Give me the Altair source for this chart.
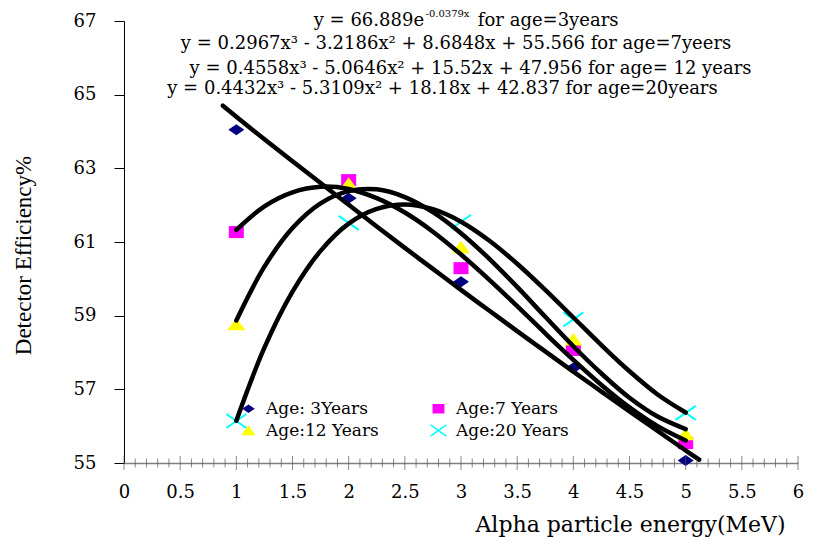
import altair as alt
import pandas as pd

# ---------------- data ----------------
SERIES = ["Age: 3Years", "Age:7 Years", "Age:12 Years", "Age:20 Years"]
COLORS = ["#000080", "#FF00FF", "#FFFF00", "#00FFFF"]

PT_X = [1, 2, 3, 4, 5]
AGE3 = [64.05, 62.19, 59.92, 57.58, 55.07]
AGE7 = [61.27, 62.68, 60.29, 58.07, 55.54]
AGE12 = [58.77, 62.58, 60.86, 58.35, 55.78]
AGE20 = [56.14, 61.52, 61.55, 58.90, 56.36]

# trend curves
CURVE_X_3 = [0.88, 1.0, 1.25, 1.5, 1.75, 2.0, 2.25, 2.5, 2.75, 3.0, 3.25, 3.5,
             3.75, 4.0, 4.25, 4.5, 4.75, 5.0, 5.12]
CURVE_Y_3 = [64.70, 64.40, 63.79, 63.19, 62.60, 62.01, 61.42, 60.84, 60.27, 59.70,
             59.14, 58.58, 58.03, 57.48, 56.94, 56.40, 55.87, 55.34, 55.09]
CURVE_X = [1.0, 1.25, 1.5, 1.75, 2.0, 2.25, 2.5, 2.75, 3.0, 3.25, 3.5, 3.75,
           4.0, 4.25, 4.5, 4.75, 5.0]
CURVE_Y_7 = [61.33, 61.97, 62.35, 62.50, 62.44, 62.19, 61.80, 61.28, 60.66, 59.98,
             59.26, 58.52, 57.80, 57.12, 56.51, 56.00, 55.61]
CURVE_Y_12 = [58.87, 60.33, 61.38, 62.05, 62.38, 62.43, 62.22, 61.81, 61.24, 60.55,
              59.78, 58.97, 58.17, 57.43, 56.77, 56.26, 55.92]
CURVE_Y_20 = [56.15, 58.13, 59.65, 60.76, 61.50, 61.90, 62.02, 61.89, 61.55, 61.04,
              60.41, 59.70, 58.95, 58.20, 57.49, 56.86, 56.37]

X_MAJOR = [0, 0.5, 1, 1.5, 2, 2.5, 3, 3.5, 4, 4.5, 5, 5.5, 6]
X_MINOR = [0.1, 0.2, 0.3, 0.4, 0.6, 0.7, 0.8, 0.9, 1.1, 1.2, 1.3, 1.4,
           1.6, 1.7, 1.8, 1.9, 2.1, 2.2, 2.3, 2.4, 2.6, 2.7, 2.8, 2.9,
           3.1, 3.2, 3.3, 3.4, 3.6, 3.7, 3.8, 3.9, 4.1, 4.2, 4.3, 4.4,
           4.6, 4.7, 4.8, 4.9, 5.1, 5.2, 5.3, 5.4, 5.6, 5.7, 5.8, 5.9]
Y_TICKS = [55, 57, 59, 61, 63, 65, 67]

EQ1_A = "y = 66.889e"
EQ1_EXP = "-0.0379x"
EQ1_C = "for age=3years"
EQ2 = "y = 0.2967x³ - 3.2186x² + 8.6848x + 55.566 for age=7yeers"
EQ3 = "y = 0.4558x³ - 5.0646x² + 15.52x + 47.956 for age= 12 years"
EQ4 = "y = 0.4432x³ - 5.3109x² + 18.18x + 42.837 for age=20years"

# ---------------- tables ----------------
pts = pd.DataFrame({
    "series": sum([[s] * len(PT_X) for s in SERIES], []),
    "x": PT_X * 4,
    "y": AGE3 + AGE7 + AGE12 + AGE20,
})
cur = pd.concat([
    pd.DataFrame({"series": SERIES[0], "x": CURVE_X_3, "y": CURVE_Y_3}),
    pd.DataFrame({"series": SERIES[1], "x": CURVE_X, "y": CURVE_Y_7}),
    pd.DataFrame({"series": SERIES[2], "x": CURVE_X, "y": CURVE_Y_12}),
    pd.DataFrame({"series": SERIES[3], "x": CURVE_X, "y": CURVE_Y_20}),
])

DIAMOND = "M-0.8,0L0,-0.55L0.8,0L0,0.55Z"
SQUARE = "M-0.75,-0.6L0.75,-0.6L0.75,0.6L-0.75,0.6Z"
TRIANGLE = "M0,-0.65L0.9,0.6L-0.9,0.6Z"
XMARK = ("M-1.057,-0.618L0.943,0.782L1.057,0.618L-0.943,-0.782Z"
         "M-0.943,0.782L1.057,-0.618L0.943,-0.782L-1.057,0.618Z")
SHAPES = [DIAMOND, SQUARE, TRIANGLE, XMARK]

SERIF = "DejaVu Serif"

xscale = alt.Scale(domain=[0, 6], nice=False, zero=False)
yscale = alt.Scale(domain=[55, 67], nice=False, zero=False)

xaxis = alt.Axis(values=X_MAJOR, format=".1~f", ticks=False, grid=False,
                 domainColor="#808080", domainWidth=1.5,
                 labelFont=SERIF, labelFontSize=18, labelColor="black",
                 labelPadding=20, labelFlush=False, labelOverlap=False,
                 title="Alpha particle energy(MeV)", titleFont=SERIF,
                 titleFontSize=22, titleFontWeight="normal", titleColor="black",
                 titleX=506, titleY=61, titleAlign="center", titleBaseline="middle")
yaxis = alt.Axis(values=Y_TICKS, format="d", tickSize=10, tickColor="black",
                 domainColor="black", domainWidth=1, grid=False,
                 labelFont=SERIF, labelFontSize=18, labelColor="black",
                 labelPadding=18,
                 title="Detector Efficiency%", titleFont="Liberation Serif",
                 titleFontSize=23, titleFontWeight="normal", titleColor="black",
                 titleX=-101, titleY=234, titleAlign="center", titleBaseline="middle")

leg = alt.Legend(title=None, orient="none", legendX=116, legendY=379, columns=2,
                 direction="horizontal",
                 labelFont=SERIF, labelFontSize=17, labelColor="black",
                 symbolSize=250, symbolStrokeWidth=0, columnPadding=51,
                 rowPadding=4, labelOffset=9, padding=0)

points = alt.Chart(pts).mark_point(filled=True, size=400, opacity=1, strokeWidth=0).encode(
    x=alt.X("x:Q", scale=xscale, axis=xaxis),
    y=alt.Y("y:Q", scale=yscale, axis=yaxis),
    color=alt.Color("series:N", scale=alt.Scale(domain=SERIES, range=COLORS), legend=leg),
    shape=alt.Shape("series:N", scale=alt.Scale(domain=SERIES, range=SHAPES), legend=leg),
)

curves = alt.Chart(cur).mark_line(color="black", strokeWidth=4.5, interpolate="catmull-rom",
                                  strokeCap="round", strokeJoin="round").encode(
    x="x:Q", y="y:Q", detail="series:N")

major_ticks = alt.Chart(pd.DataFrame({"t": X_MAJOR})).mark_tick(
    orient="vertical", color="#555555", thickness=1, size=14).encode(
    x="t:Q", y=alt.datum(55))
minor_ticks = alt.Chart(pd.DataFrame({"t": X_MINOR})).mark_tick(
    orient="vertical", color="#555555", thickness=1, size=9).encode(
    x="t:Q", y=alt.datum(55))

one = pd.DataFrame({"a": [0]})


def label(text, x, y, align="center", size=18, dy=0):
    return alt.Chart(one).mark_text(text=text, font=SERIF, fontSize=size, color="black",
                                    align=align, baseline="middle", dy=dy).encode(
        x=alt.datum(x), y=alt.datum(y))


texts = [
    label(EQ1_A, 2.671, 67.0, align="right"),
    label(EQ1_EXP, 2.684, 67.0, align="left", size=10, dy=-7),
    label(EQ1_C, 3.150, 67.0, align="left"),
    label(EQ2, 2.956, 66.375),
    label(EQ3, 3.085, 65.698),
    label(EQ4, 2.835, 65.155),
]

chart = alt.layer(points, curves, major_ticks, minor_ticks, *texts).properties(
    width=674, height=442,
    autosize=alt.AutoSizeParams(type="none"),
    padding={"left": 124, "top": 21, "right": 26, "bottom": 74},
    background="white",
).configure_view(stroke=None)

chart.save("out.html", embed_options={"renderer": "svg", "actions": False})
